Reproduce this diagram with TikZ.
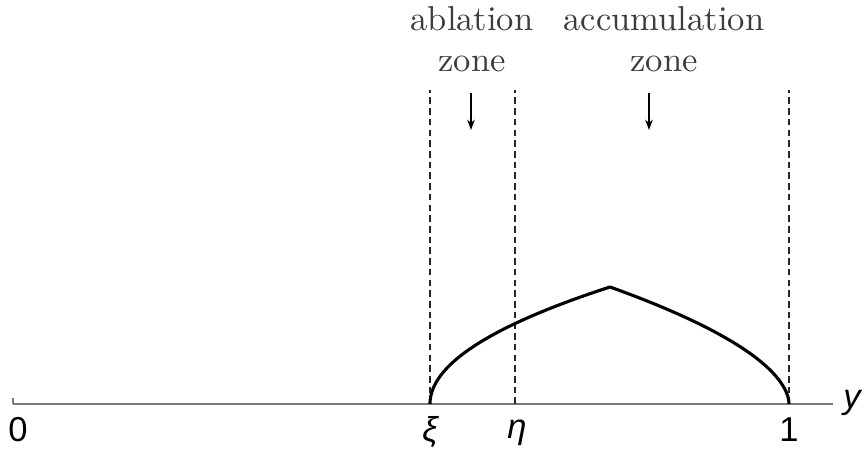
\documentclass[tikz,border=0pt]{standalone}
\usepackage{fontspec}
\newfontfamily\axisfont{Liberation Sans}
\usepackage{tikz}
\usetikzlibrary{positioning,arrows.meta}
\usepackage{xcolor}
\definecolor{axisgray}{HTML}{7A7A7A}
\definecolor{zonetext}{HTML}{3C3C3C}

\begin{document}
\begin{tikzpicture}[x=0.2894pt, y=0.2894pt,
    zoneline/.style={black!85, line width=0.4pt, dash pattern=on 1.9pt off 1.2pt},
    zonelabel/.style={text=zonetext, align=center, inner sep=0pt},
    axislabel/.style={font=\axisfont, inner sep=0pt},
    fall/.style={-{Stealth[length=3pt,width=2.2pt]}, line width=0.35pt}]
    \useasboundingbox (0,-47) rectangle (864,404);
    % axis
    \coordinate (origin) at (13,0);
    \coordinate (xi) at (430,0);
    \coordinate (eta) at (515,0);
    \coordinate (one) at (789,0);
    \coordinate (axisend) at (833,0);
    \draw[axisgray, line width=0.45pt] (origin) -- (axisend);
    \draw[axisgray, line width=0.45pt] (origin) -- ++(0,6);
    % zone borders
    \draw[zoneline] (xi) -- ++(0,314);
    \draw[zoneline] (eta) -- ++(0,314);
    \draw[zoneline] (one) -- ++(0,314);
    % profile
    \draw[line width=0.9pt, line join=round]
      plot[domain=0:1, samples=60, smooth] ({430+180*\x*\x}, {117*\x})
      -- plot[domain=1:0, samples=60, smooth] ({789-179*\x*\x}, {117*\x^1.1});
    % labels
    \node[zonelabel] (ablation) at (472,365) {ablation\\zone};
    \node[zonelabel] (accum) at (664,365) {accumulation\\zone};
    \coordinate (abltop) at (471,311);
    \coordinate (acctop) at (649,311);
    \draw[fall] (abltop) -- ++(0,-37);
    \draw[fall] (acctop) -- ++(0,-37);
    \node[axislabel] (lzero) at (18,-26) {0};
    \node[axislabel] (lxi) at (430,-28) {\itshape ξ};
    \node[axislabel] (leta) at (517,-29) {\itshape η};
    \node[axislabel] (lone) at (789,-26) {1};
    \node[axislabel] (ly) at (852,1) {\itshape y};
  \end{tikzpicture}
\end{document}
